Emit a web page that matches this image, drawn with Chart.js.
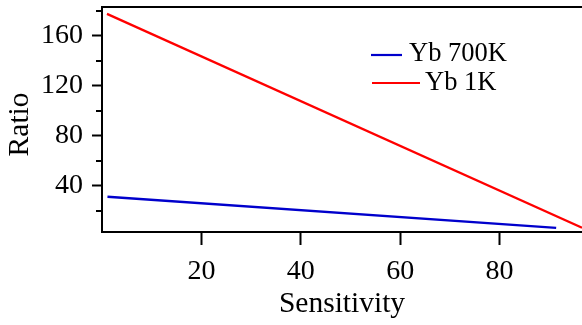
<!DOCTYPE html>
<html><head><meta charset="utf-8">
<script src="https://cdn.jsdelivr.net/npm/chart.js@4/dist/chart.umd.min.js"></script>
<style>html,body{margin:0;padding:0;background:#fff}#wrap{width:582px;height:325px;position:relative}</style>
</head><body><div id="wrap"><canvas id="c"></canvas></div>
<script>
const seriesNames = ['Yb 700K', 'Yb 1K'];
const sens700 = [1.1, 91.4];
const ratio700 = [31.2, 6.3];
const sens1K = [1.0, 96.6];
const ratio1K = [177.5, 6.5];
const xMajorTicks = [20, 40, 60, 80];
const yMajorTicks = [40, 80, 120, 160];
const yMinorTicks = [20, 60, 100, 140, 180];
const xRange = [0, 96.6];
const yRange = [3, 183];

const FONT = 'Liberation Serif';
const pts = (xs, ys) => xs.map((x, i) => ({x, y: ys[i]}));

const extras = {
  id: 'extras',
  afterDraw(chart) {
    const {ctx, chartArea: a, scales} = chart;
    ctx.save();
    ctx.strokeStyle = '#000';
    ctx.lineWidth = 2;
    ctx.beginPath();
    ctx.moveTo(a.left - 1, a.top);
    ctx.lineTo(a.right, a.top);
    ctx.stroke();
    yMinorTicks.forEach(v => {
      if (v < yRange[0] || v > yRange[1]) return;
      const y = Math.round(scales.y.getPixelForValue(v));
      ctx.beginPath();
      ctx.moveTo(a.left - 6, y);
      ctx.lineTo(a.left, y);
      ctx.stroke();
    });
    const colors = ['#0000cc', '#ff0000'];
    const items = [
      {x1: 371, x2: 402, y: 55, tx: 409, ty: 61},
      {x1: 372, x2: 420, y: 83, tx: 425, ty: 90}
    ];
    ctx.font = '26.5px "' + FONT + '"';
    ctx.textBaseline = 'alphabetic';
    ctx.textAlign = 'left';
    items.forEach((it, i) => {
      ctx.strokeStyle = colors[i];
      ctx.lineWidth = 2.2;
      ctx.beginPath();
      ctx.moveTo(it.x1, it.y);
      ctx.lineTo(it.x2, it.y);
      ctx.stroke();
      ctx.fillStyle = '#000';
      ctx.fillText(seriesNames[i], it.tx, it.ty);
    });
    ctx.restore();
  }
};

new Chart(document.getElementById('c'), {
  type: 'line',
  data: {
    datasets: [
      {label: seriesNames[0], data: pts(sens700, ratio700), borderColor: '#0000cc', borderWidth: 2.4, pointRadius: 0, fill: false, tension: 0},
      {label: seriesNames[1], data: pts(sens1K, ratio1K), borderColor: '#ff0000', borderWidth: 2.2, pointRadius: 0, fill: false, tension: 0}
    ]
  },
  options: {
    responsive: true,
    maintainAspectRatio: false,
    animation: false,
    devicePixelRatio: 1,
    layout: {padding: {top: 7, right: 0, left: 0, bottom: 0}},
    plugins: {legend: {display: false}, tooltip: {enabled: false}},
    scales: {
      x: {
        type: 'linear', min: xRange[0], max: xRange[1],
        afterFit: s => { s.height = 93; s.paddingLeft = 0; s.paddingRight = 0; },
        afterBuildTicks: s => { s.ticks = xMajorTicks.map(v => ({value: v})); },
        ticks: {font: {family: FONT, size: 28}, color: '#000', padding: 10, maxRotation: 0},
        grid: {drawOnChartArea: false, drawTicks: true, tickLength: 13, tickColor: '#000', tickWidth: 2},
        border: {color: '#000', width: 2},
        title: {display: true, text: 'Sensitivity', font: {family: FONT, size: 29.5}, color: '#000', padding: {top: 0, bottom: 3}}
      },
      y: {
        type: 'linear', min: yRange[0], max: yRange[1],
        afterFit: s => { s.width = 102; s.paddingTop = 0; s.paddingBottom = 0; },
        afterBuildTicks: s => { s.ticks = yMajorTicks.map(v => ({value: v})); },
        ticks: {font: {family: FONT, size: 28}, color: '#000', padding: 9},
        grid: {drawOnChartArea: false, drawTicks: true, tickLength: 10, tickColor: '#000', tickWidth: 2},
        border: {color: '#000', width: 2},
        title: {display: true, text: 'Ratio \u200A', font: {family: FONT, size: 29.5}, color: '#000', padding: {top: 3, bottom: 0}}
      }
    }
  },
  plugins: [extras]
});
</script></body></html>
